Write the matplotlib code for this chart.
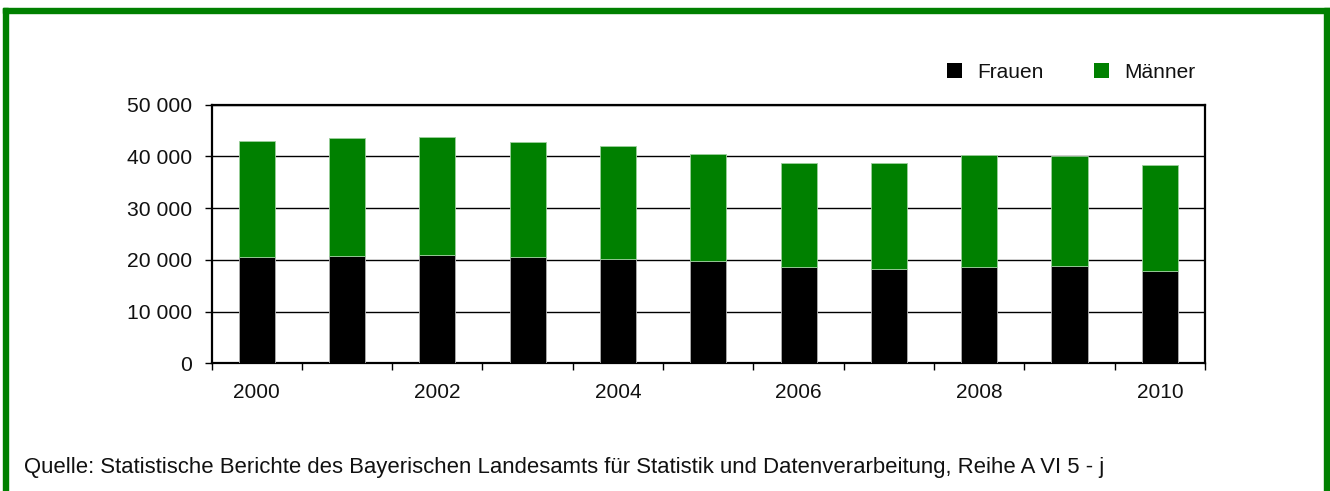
import matplotlib
matplotlib.use("Agg")
import matplotlib.pyplot as plt
from matplotlib.patches import Rectangle
from matplotlib.ticker import FuncFormatter, FixedLocator

plt.rcParams['font.family'] = ['Liberation Sans', 'DejaVu Sans']

years = [2000, 2001, 2002, 2003, 2004, 2005, 2006, 2007, 2008, 2009, 2010]
frauen = [20600, 20800, 21000, 20600, 20200, 19700, 18700, 18300, 18700, 18850, 17900]
maenner = [22400, 22800, 22800, 22100, 21900, 20800, 20100, 20500, 21500, 21200, 20400]
series_labels = ["Frauen", "Männer"]
source_text = ("Quelle: Statistische Berichte des Bayerischen Landesamts für Statistik "
               "und Datenverarbeitung, Reihe A VI 5 - j")

GREEN = "#008000"
W, H = 1330, 491
fig = plt.figure(figsize=(W / 100, H / 100), dpi=100)
fig.patch.set_facecolor("white")

ax = fig.add_axes([211.5 / W, (H - 363.3) / H, (1205 - 211.5) / W, (363.3 - 104.7) / H])
x = list(range(len(years)))
b1 = ax.bar(x, frauen, width=0.4, color="black", edgecolor="#b0b0b0", linewidth=0.6, zorder=3,
            label=series_labels[0])
b2 = ax.bar(x, maenner, width=0.4, bottom=frauen, color=GREEN, edgecolor="#9ccf9c", linewidth=0.6,
            zorder=3, label=series_labels[1])

ax.set_xlim(-0.5, len(years) - 0.5)
ax.set_ylim(0, 50000)
ax.set_yticks(range(0, 50001, 10000))
ax.yaxis.set_major_formatter(FuncFormatter(lambda v, p: f"{int(v):,}".replace(",", " ")))
ax.yaxis.grid(True, color="black", linewidth=1.0, zorder=1)
ax.set_axisbelow(True)

label_idx = [i for i, yv in enumerate(years) if yv % 2 == 0]
ax.xaxis.set_major_locator(FixedLocator(label_idx))
ax.set_xticklabels([str(years[i]) for i in label_idx])
ax.xaxis.set_minor_locator(FixedLocator([i - 0.5 for i in range(len(years) + 1)]))
ax.tick_params(axis="x", which="major", length=0, pad=14, labelsize=15, colors="#111111")
ax.tick_params(axis="x", which="minor", length=5, width=1, color="black")
ax.tick_params(axis="y", which="major", length=5, width=1, pad=9, labelsize=15.2, colors="#111111")
ax.tick_params(axis="y", color="black")
for s in ax.spines.values():
    s.set_linewidth(1.6)
    s.set_color("black")

leg = fig.legend(handles=[b1, b2], labels=series_labels, loc="center right",
                 bbox_to_anchor=(1214 / W, (H - 72) / H), ncol=2, frameon=False,
                 fontsize=15, handlelength=0.7, handleheight=0.7, handletextpad=0.75,
                 columnspacing=2.4)
for h in leg.legend_handles:
    h.set_edgecolor("none")
for t in leg.get_texts():
    t.set_color("#111111")

fig.text(24 / W, (H - 467) / H, source_text, fontsize=15.9, ha="left", va="center", color="#111111")

# green frame (left, top, right)
fig.patches.append(Rectangle((3 / W, 0), 5 / W, (H - 8) / H, transform=fig.transFigure,
                             color=GREEN, zorder=10))
fig.patches.append(Rectangle((3 / W, (H - 13) / H), (1330 - 3) / W, 5 / H, transform=fig.transFigure,
                             color=GREEN, zorder=10))
fig.patches.append(Rectangle((1324 / W, 0), 6 / W, (H - 8) / H, transform=fig.transFigure,
                             color=GREEN, zorder=10))

fig.savefig("out.png", dpi=100, facecolor="white")
